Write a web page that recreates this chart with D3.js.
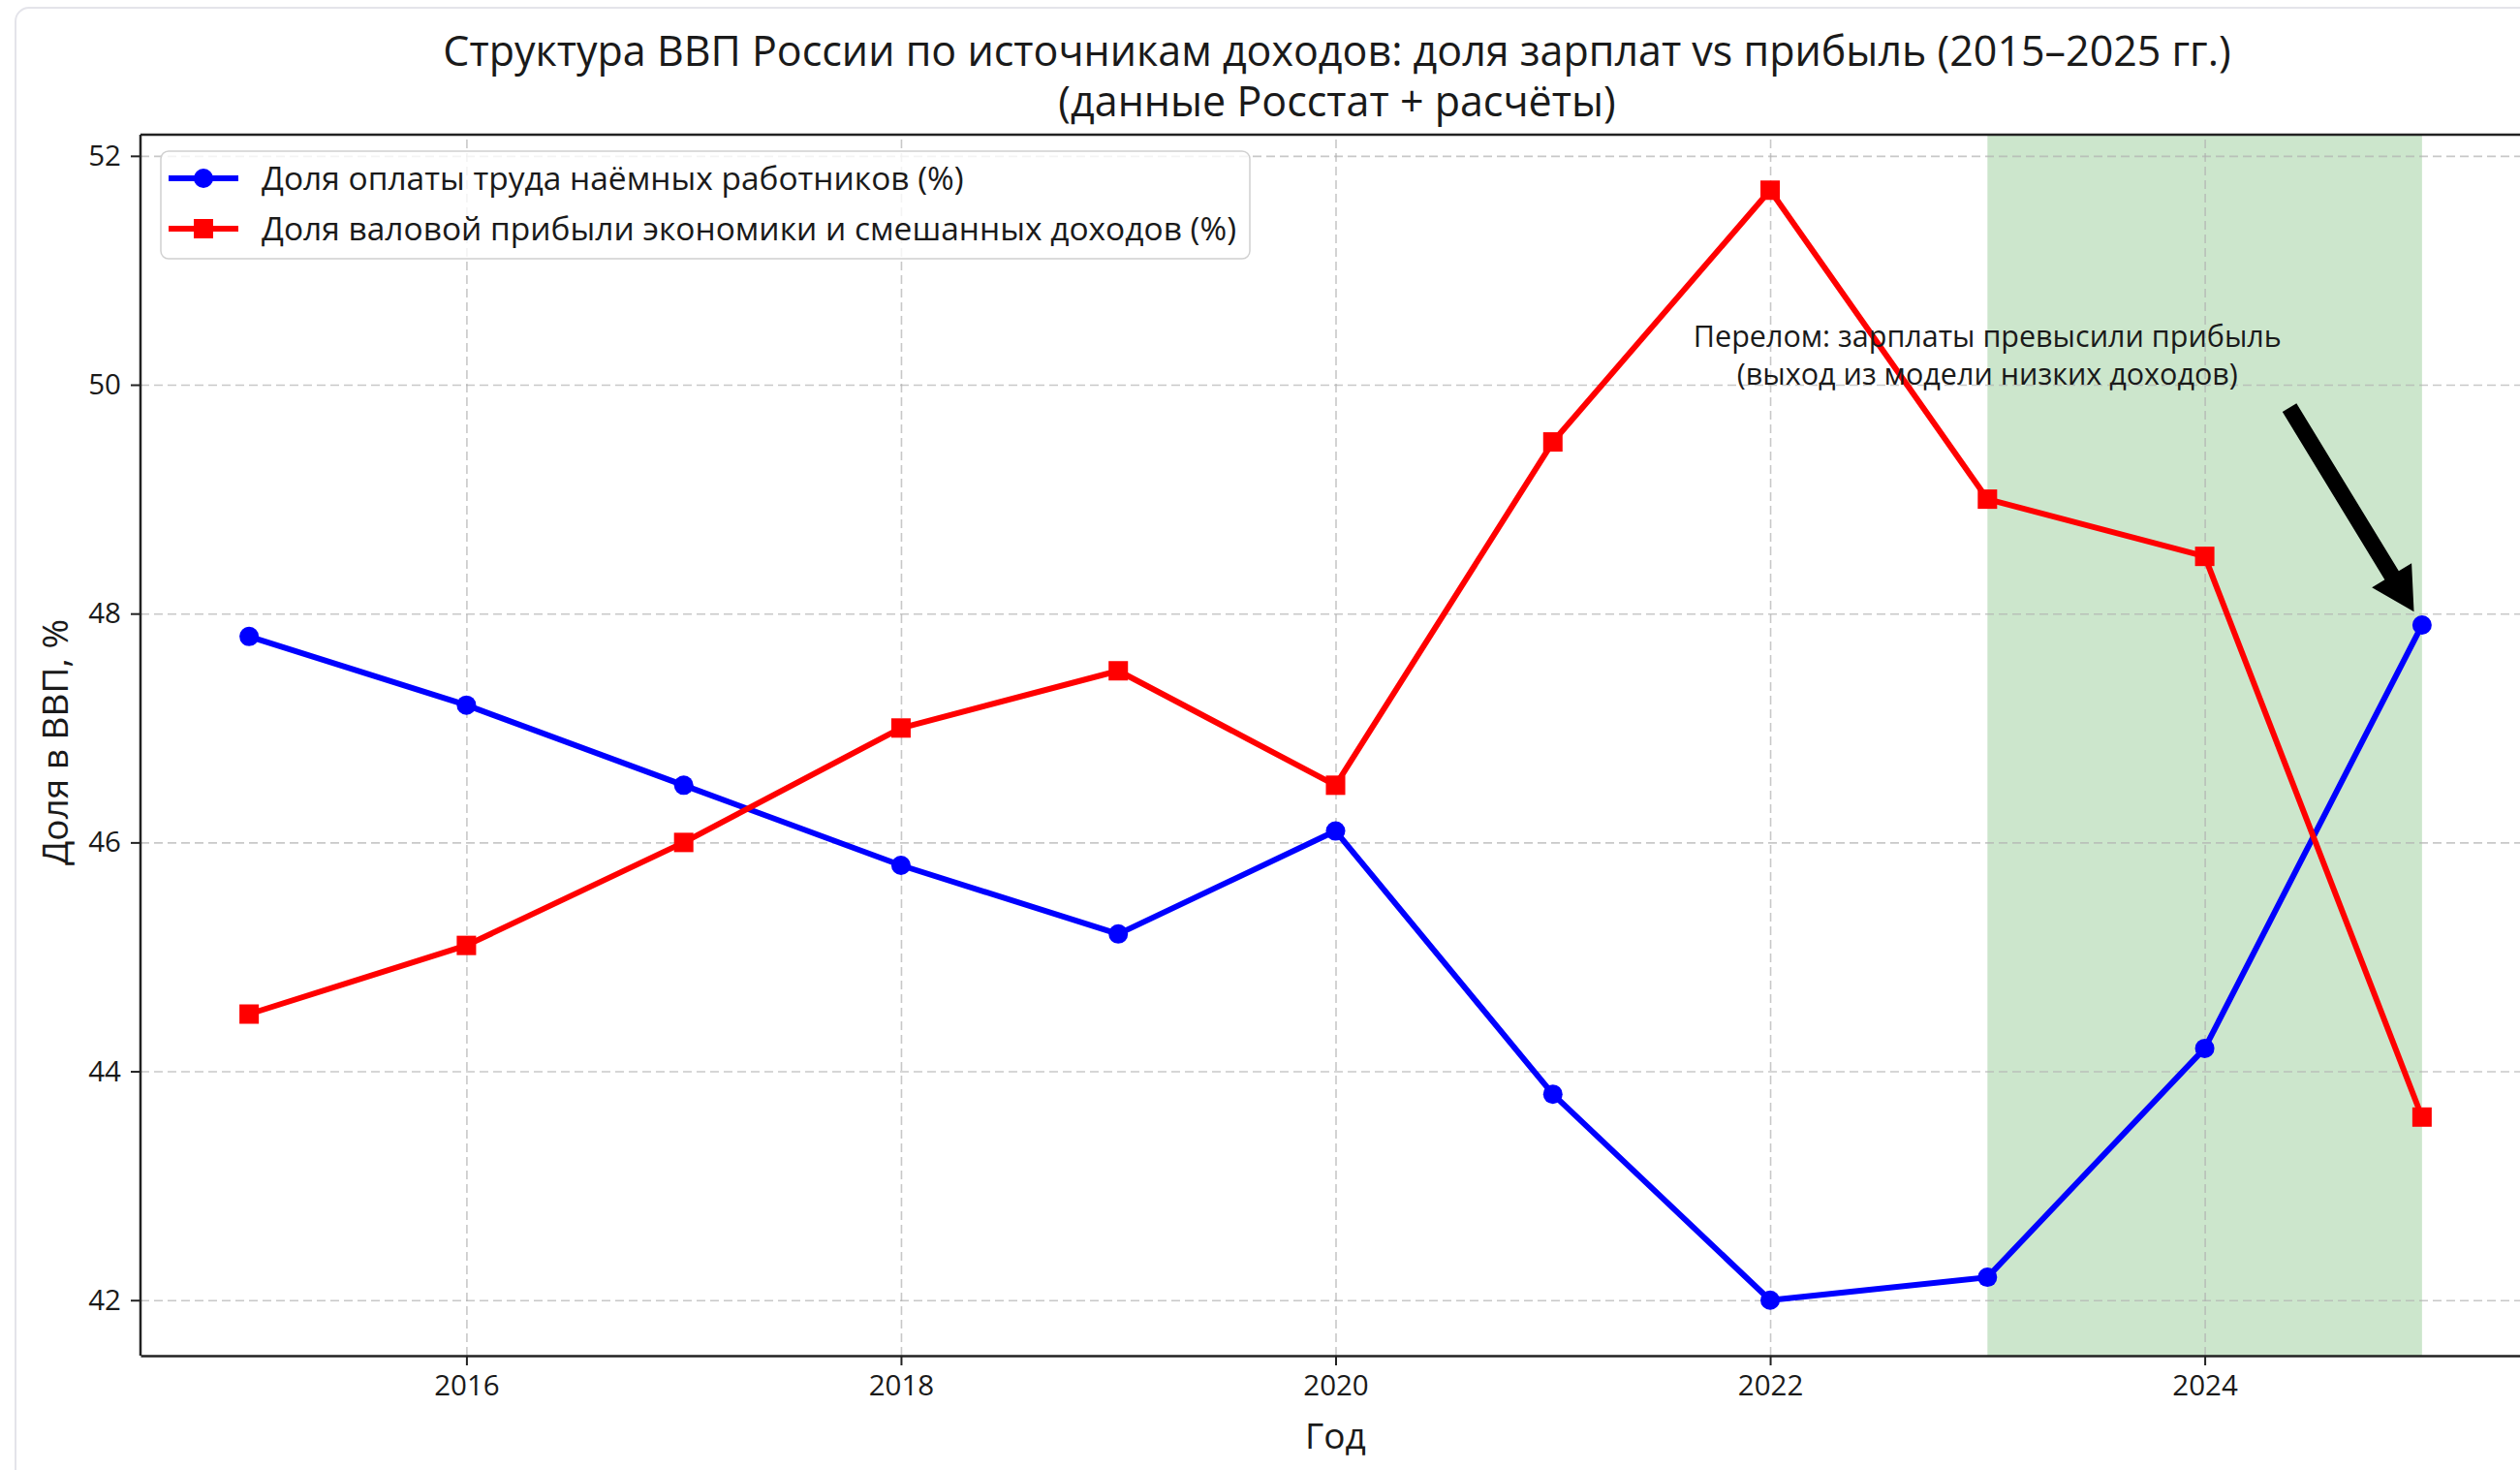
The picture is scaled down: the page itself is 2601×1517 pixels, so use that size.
<!DOCTYPE html>
<meta charset="utf-8">
<style>
body { margin: 0; background: #fff; }
text { font-family: "Open Sans", "Noto Sans", sans-serif; fill: #1a1a1a; }
.grid line { stroke: #b0b0b0; stroke-opacity: 0.7; stroke-width: 1.6; stroke-dasharray: 9,5; }
.grid path { stroke-width: 0; }
.axis path, .axis line { stroke: #222; }
.axis text { font-size: 29.5px; }
</style>
<body>
<script src="https://d3js.org/d3.v7.min.js"></script>
<script>

// data
var years = [2015, 2016, 2017, 2018, 2019, 2020, 2021, 2022, 2023, 2024, 2025];
var wages = [47.8, 47.2, 46.5, 45.8, 45.2, 46.1, 43.8, 42.0, 42.2, 44.2, 47.9];
var profit = [44.5, 45.1, 46.0, 47.0, 47.5, 46.5, 49.5, 51.7, 49.0, 48.5, 43.6];
var seriesNames = ["Доля оплаты труда наёмных работников (%)",
                   "Доля валовой прибыли экономики и смешанных доходов (%)"];
var xTicks = [2016, 2018, 2020, 2022, 2024];
var yTicks = [42, 44, 46, 48, 50, 52];
var spanYears = [2023, 2025];
var noteLines = ["Перелом: зарплаты превысили прибыль", "(выход из модели низких доходов)"];
var noteText = [2023, 50.25];   // text centre
var noteFrom = [2024.39, 49.8]; // arrow tail
var noteTo = [2025, 47.9];      // arrow target

var W = 2601, H = 1517;
var margin = {top: 139, left: 145},
    width = 2467,   // right spine falls outside the screenshot
    height = 1260;

var svg = d3.select("body").append("svg")
    .attr("width", W)
    .attr("height", H);

// screenshot card outline
svg.append("rect")
    .attr("x", 16).attr("y", 8)
    .attr("width", 2700).attr("height", 1700)
    .attr("rx", 14)
    .style("fill", "#fff")
    .style("stroke", "#e4e4ea")
    .style("stroke-width", 2);

var g = svg.append("g")
    .attr("transform", "translate(" + margin.left + "," + margin.top + ")");

// matplotlib style 5% margins
var xExt = d3.extent(years), yExt = d3.extent(wages.concat(profit));
var xPad = (xExt[1] - xExt[0]) * 0.05, yPad = (yExt[1] - yExt[0]) * 0.05;
var x = d3.scaleLinear().domain([xExt[0] - xPad, xExt[1] + xPad]).range([0, width]);
var y = d3.scaleLinear().domain([yExt[0] - yPad, yExt[1] + yPad]).range([height, 0]);

// shaded period
g.append("rect")
    .attr("x", x(spanYears[0]))
    .attr("y", 0)
    .attr("width", x(spanYears[1]) - x(spanYears[0]))
    .attr("height", height)
    .style("fill", "green")
    .style("opacity", 0.2);

// gridlines
g.append("g")
    .attr("class", "grid")
    .attr("transform", "translate(0," + height + ")")
    .call(d3.axisBottom(x).tickValues(xTicks).tickSize(-height).tickFormat(""));

g.append("g")
    .attr("class", "grid")
    .call(d3.axisLeft(y).tickValues(yTicks).tickSize(-width).tickFormat(""));

// lines + markers
var line = d3.line()
    .x(function(d) { return x(d[0]); })
    .y(function(d) { return y(d[1]); });

var wagePts = years.map(function(yr, i) { return [yr, wages[i]]; });
var profitPts = years.map(function(yr, i) { return [yr, profit[i]]; });

g.append("path")
    .datum(wagePts)
    .attr("d", line)
    .style("fill", "none")
    .style("stroke", "blue")
    .style("stroke-width", 6)
    .style("stroke-linejoin", "round");

g.selectAll(".dotW")
    .data(wagePts)
  .enter().append("circle")
    .attr("cx", function(d) { return x(d[0]); })
    .attr("cy", function(d) { return y(d[1]); })
    .attr("r", 10)
    .style("fill", "blue");

g.append("path")
    .datum(profitPts)
    .attr("d", line)
    .style("fill", "none")
    .style("stroke", "red")
    .style("stroke-width", 6)
    .style("stroke-linejoin", "round");

g.selectAll(".dotP")
    .data(profitPts)
  .enter().append("rect")
    .attr("x", function(d) { return x(d[0]) - 10; })
    .attr("y", function(d) { return y(d[1]) - 10; })
    .attr("width", 20)
    .attr("height", 20)
    .style("fill", "red");

// spines
g.append("line").attr("x1", 0).attr("x2", width).attr("y1", 0).attr("y2", 0)
    .style("stroke", "#222").style("stroke-width", 2.5);
g.append("line").attr("x1", 0).attr("x2", 0).attr("y1", 0).attr("y2", height)
    .style("stroke", "#222").style("stroke-width", 2.5);

// axes
var xAxis = g.append("g")
    .attr("class", "axis")
    .attr("transform", "translate(0," + height + ")")
    .call(d3.axisBottom(x).tickValues(xTicks).tickSize(10).tickSizeOuter(0)
        .tickPadding(10).tickFormat(d3.format("d")));
xAxis.select(".domain").style("stroke-width", 2.5);
xAxis.selectAll(".tick line").style("stroke-width", 2);

var yAxis = g.append("g")
    .attr("class", "axis")
    .call(d3.axisLeft(y).tickValues(yTicks).tickSize(10).tickPadding(10));
yAxis.select(".domain").remove();
yAxis.selectAll(".tick line").style("stroke-width", 2);

// axis labels
svg.append("text")
    .attr("x", margin.left + x(2020))
    .attr("y", 1495)
    .attr("text-anchor", "middle")
    .style("font-size", "37px")
    .text("Год");

svg.append("text")
    .attr("transform", "translate(70," + (margin.top + height / 2 - 3) + ") rotate(-90)")
    .attr("text-anchor", "middle")
    .style("font-size", "37px")
    .text("Доля в ВВП, %");

// title
var title = svg.append("text")
    .attr("x", 1380)
    .attr("text-anchor", "middle")
    .style("font-size", "43px");
title.append("tspan").attr("x", 1380).attr("y", 68)
    .text("Структура ВВП России по источникам доходов: доля зарплат vs прибыль (2015–2025 гг.)");
title.append("tspan").attr("x", 1380).attr("y", 120)
    .text("(данные Росстат + расчёты)");

// annotation text
var note = g.append("text")
    .attr("text-anchor", "middle")
    .style("font-size", "30.5px");
noteLines.forEach(function(t, i) {
  note.append("tspan")
      .attr("x", x(noteText[0]))
      .attr("y", y(noteText[1]) - 10 + i * 39)
      .text(t);
});

// annotation arrow
var ax0 = x(noteFrom[0]), ay0 = y(noteFrom[1]);
var ax1 = x(noteTo[0]), ay1 = y(noteTo[1]);
var dx = ax1 - ax0, dy = ay1 - ay0, len = Math.sqrt(dx * dx + dy * dy);
var ux = dx / len, uy = dy / len, px = -uy, py = ux;
len -= 16;
var tipX = ax0 + ux * len, tipY = ay0 + uy * len;
var sw = 8.5, hw = 24, hl = 44;
var bx = tipX - ux * hl, by = tipY - uy * hl;
var arrowPts = [
  [ax0 + px * sw, ay0 + py * sw],
  [bx + px * sw, by + py * sw],
  [bx + px * hw, by + py * hw],
  [tipX, tipY],
  [bx - px * hw, by - py * hw],
  [bx - px * sw, by - py * sw],
  [ax0 - px * sw, ay0 - py * sw]
];
g.append("path")
    .attr("d", d3.line()(arrowPts) + "Z")
    .style("fill", "black");

// legend
var legend = svg.append("g").attr("transform", "translate(166,156)");
legend.append("rect")
    .attr("width", 1124)
    .attr("height", 111)
    .attr("rx", 8)
    .style("fill", "#fff")
    .style("fill-opacity", 0.8)
    .style("stroke", "#d0d0d0")
    .style("stroke-width", 1.5);

var colors = ["blue", "red"];
seriesNames.forEach(function(name, i) {
  var row = legend.append("g").attr("transform", "translate(0," + (28 + i * 52) + ")");
  row.append("line")
      .attr("x1", 8).attr("x2", 80)
      .style("stroke", colors[i])
      .style("stroke-width", 6);
  if (i === 0) {
    row.append("circle").attr("cx", 44).attr("r", 10).style("fill", colors[i]);
  } else {
    row.append("rect").attr("x", 34).attr("y", -10).attr("width", 20).attr("height", 20).style("fill", colors[i]);
  }
  row.append("text")
      .attr("x", 104)
      .attr("dy", "0.35em")
      .style("font-size", "33.5px")
      .text(name);
});

</script>
</body>
